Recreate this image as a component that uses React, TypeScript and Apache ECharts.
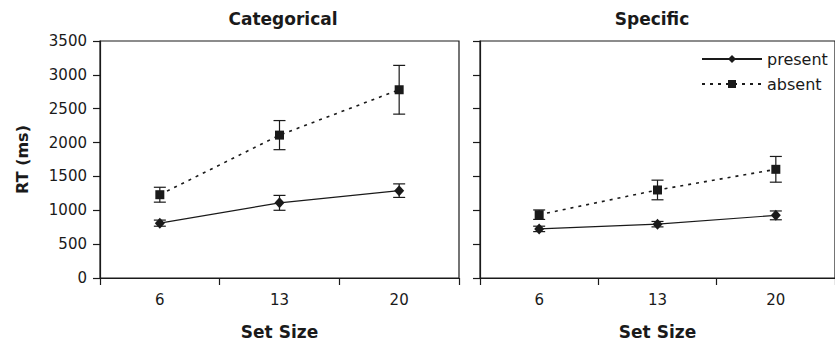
import React, { useEffect, useRef } from "react";
import * as echarts from "echarts";

const setSizes = ["6", "13", "20"];
const yTicks = [0, 500, 1000, 1500, 2000, 2500, 3000, 3500];

const catPresent = [810, 1110, 1290];
const catPresentErr = [45, 110, 100];
const catAbsent = [1230, 2110, 2780];
const catAbsentErr = [110, 215, 360];

const specPresent = [725, 795, 925];
const specPresentErr = [40, 40, 65];
const specAbsent = [935, 1300, 1605];
const specAbsentErr = [70, 145, 190];

const FONT = "'DejaVu Sans', Arial, sans-serif";
const INK = "#1a1a1a";

function errData(vals: number[], errs: number[]) {
  return vals.map((v, i) => [i, v - errs[i], v + errs[i]]);
}

function errSeries(idx: number, vals: number[], errs: number[]) {
  return {
    type: "custom",
    xAxisIndex: idx,
    yAxisIndex: idx,
    data: errData(vals, errs),
    encode: { x: 0, y: [1, 2] },
    z: 3,
    silent: true,
    renderItem: (params: any, api: any) => {
      const lo = api.coord([api.value(0), api.value(1)]);
      const hi = api.coord([api.value(0), api.value(2)]);
      const w = 6;
      const style = { stroke: INK, lineWidth: 1.2 };
      return {
        type: "group",
        children: [
          { type: "line", shape: { x1: lo[0], y1: lo[1], x2: hi[0], y2: hi[1] }, style },
          { type: "line", shape: { x1: lo[0] - w, y1: lo[1], x2: lo[0] + w, y2: lo[1] }, style },
          { type: "line", shape: { x1: hi[0] - w, y1: hi[1], x2: hi[0] + w, y2: hi[1] }, style },
        ],
      };
    },
  };
}

function lineSeries(idx: number, name: string, vals: number[], dashed: boolean) {
  return {
    type: "line",
    name,
    xAxisIndex: idx,
    yAxisIndex: idx,
    data: vals,
    symbol: dashed ? "rect" : "diamond",
    symbolSize: dashed ? 9 : [10, 11],
    itemStyle: { color: INK },
    lineStyle: dashed
      ? { color: INK, width: 1.6, type: [3, 5] }
      : { color: INK, width: 1.2, type: "solid" },
    z: 4,
  };
}

function xAxis(idx: number) {
  return {
    type: "category",
    gridIndex: idx,
    data: setSizes,
    boundaryGap: true,
    axisLine: { lineStyle: { color: INK, width: 1.2 } },
    axisTick: { show: true, length: 7, inside: false, lineStyle: { color: INK, width: 1.2 } },
    axisLabel: { color: INK, fontSize: 15, fontFamily: FONT, margin: 14 },
    name: "Set Size",
    nameLocation: "middle",
    nameGap: 45,
    nameTextStyle: { color: INK, fontSize: 17, fontWeight: "bold", fontFamily: FONT },
  };
}

function yAxis(idx: number, labels: boolean) {
  return {
    type: "value",
    gridIndex: idx,
    min: yTicks[0],
    max: yTicks[yTicks.length - 1],
    interval: yTicks[1] - yTicks[0],
    splitLine: { show: false },
    axisLine: { show: true, lineStyle: { color: INK, width: 1.2 } },
    axisTick: { show: true, length: 7, inside: false, lineStyle: { color: INK, width: 1.2 } },
    axisLabel: {
      show: labels,
      color: INK,
      fontSize: 15,
      fontFamily: FONT,
      margin: 13,
      formatter: (v: number) => String(v),
    },
    name: labels ? "RT (ms)" : "",
    nameLocation: "middle",
    nameRotate: 90,
    nameGap: 70,
    nameTextStyle: { color: INK, fontSize: 16, fontWeight: "bold", fontFamily: FONT },
  };
}

export default function App() {
  const ref = useRef<HTMLDivElement>(null);
  useEffect(() => {
    if (!ref.current) return;
    const chart = echarts.init(ref.current, undefined, { renderer: "svg" });
    chart.setOption({
      animation: false,
      backgroundColor: "#fff",
      title: [
        {
          text: "Categorical",
          left: 278,
          top: 5,
          textAlign: "center",
          textStyle: { color: INK, fontSize: 17, fontWeight: "bold", fontFamily: FONT },
        },
        {
          text: "Specific",
          left: 647,
          top: 5,
          textAlign: "center",
          textStyle: { color: INK, fontSize: 17, fontWeight: "bold", fontFamily: FONT },
        },
      ],
      legend: {
        orient: "vertical",
        left: 701,
        top: 51,
        padding: 0,
        itemWidth: 60,
        itemHeight: 10,
        itemGap: 9,
        data: ["present", "absent"],
        textStyle: { color: INK, fontSize: 16, fontFamily: FONT },
        selectedMode: false,
      },
      grid: [
        { left: 100, top: 41, width: 359, height: 237, show: true, borderColor: INK, borderWidth: 1.2, backgroundColor: "transparent" },
        { left: 480, top: 41, width: 361, height: 237, show: true, borderColor: INK, borderWidth: 1.2, backgroundColor: "transparent" },
      ],
      xAxis: [xAxis(0), xAxis(1)],
      yAxis: [yAxis(0, true), yAxis(1, false)],
      series: [
        lineSeries(0, "present", catPresent, false),
        lineSeries(0, "absent", catAbsent, true),
        errSeries(0, catPresent, catPresentErr),
        errSeries(0, catAbsent, catAbsentErr),
        lineSeries(1, "present", specPresent, false),
        lineSeries(1, "absent", specAbsent, true),
        errSeries(1, specPresent, specPresentErr),
        errSeries(1, specAbsent, specAbsentErr),
      ],
    });
    return () => chart.dispose();
  }, []);
  return (
    <div
      ref={ref}
      style={{ position: "fixed", left: 0, top: 0, width: 835, height: 346 }}
    />
  );
}
